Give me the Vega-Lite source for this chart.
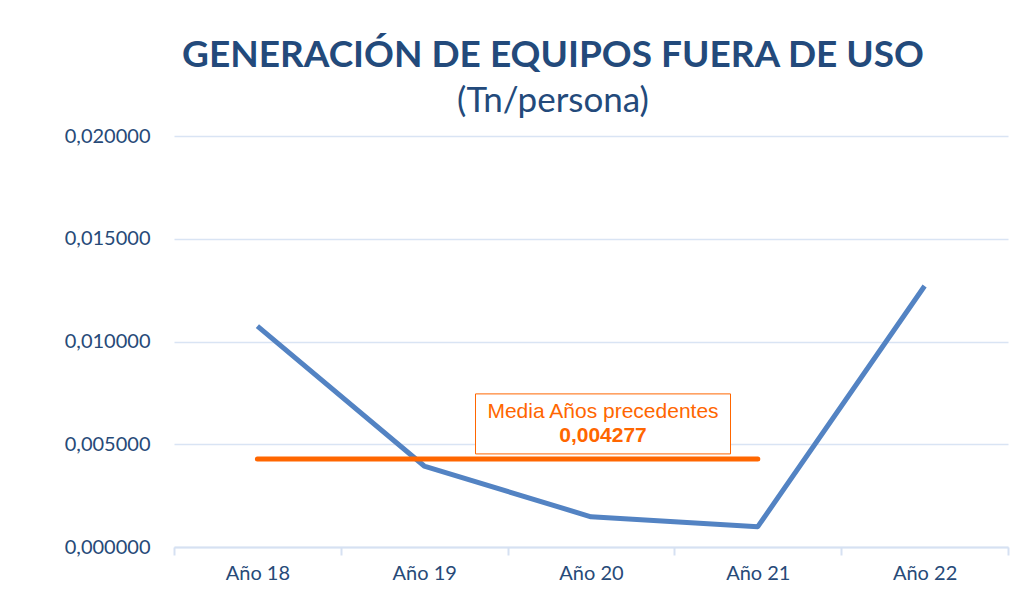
{
  "$schema": "https://vega.github.io/schema/vega-lite/v6.json",
  "autosize": {"type": "none"},
  "padding": {"left": 174, "top": 136, "right": 14, "bottom": 62},
  "width": 834,
  "height": 411,
  "background": "white",
  "config": {
    "locale": {"number": {"decimal": ",", "thousands": ".", "grouping": [3], "currency": ["", " €"]}},
    "view": {"stroke": null}
  },
  "title": {
    "text": "GENERACIÓN DE EQUIPOS FUERA DE USO",
    "subtitle": "(Tn/persona)",
    "anchor": "middle",
    "dx": -38,
    "offset": 6,
    "font": "Lato",
    "fontSize": 37,
    "fontWeight": "bold",
    "color": "#234A7B",
    "subtitleFont": "Lato",
    "subtitleFontSize": 35,
    "subtitleColor": "#234A7B",
    "subtitlePadding": 9
  },
  "datasets": {
    "serie": [
      {"anio": "Año 18", "valor": 0.01075},
      {"anio": "Año 19", "valor": 0.00394},
      {"anio": "Año 20", "valor": 0.00147},
      {"anio": "Año 21", "valor": 0.00099},
      {"anio": "Año 22", "valor": 0.0127}
    ],
    "media": [
      {"anio": "Año 18", "valor": 0.004277},
      {"anio": "Año 21", "valor": 0.004277}
    ],
    "caja": [
      {"anio": "Año 20", "top": 0.00745, "bottom": 0.00453}
    ],
    "texto1": [
      {"anio": "Año 20", "valor": 0.00657, "texto": "Media Años precedentes"}
    ],
    "texto2": [
      {"anio": "Año 20", "valor": 0.00538, "texto": "0,004277"}
    ]
  },
  "layer": [
    {
      "data": {"name": "serie"},
      "mark": {"type": "line", "color": "#5383C3", "strokeWidth": 5, "strokeJoin": "round"},
      "encoding": {
        "x": {
          "field": "anio", "type": "nominal", "sort": null,
          "scale": {"paddingInner": 0, "paddingOuter": 0},
          "axis": {
            "title": null, "labelAngle": 0, "tickBand": "extent",
            "labelFont": "Lato", "labelFontSize": 20, "labelColor": "#274A78",
            "labelPadding": 8,
            "domainColor": "#D6E1F2", "domainWidth": 2,
            "tickColor": "#D6E1F2", "tickWidth": 2, "tickSize": 8,
            "grid": false
          }
        },
        "y": {
          "field": "valor", "type": "quantitative",
          "scale": {"domain": [0, 0.02], "nice": false},
          "axis": {
            "title": null, "values": [0, 0.005, 0.01, 0.015, 0.02], "format": ".6f",
            "labelFont": "Lato", "labelFontSize": 20, "labelColor": "#274A78",
            "labelPadding": 24, "domain": false, "ticks": false,
            "grid": true, "gridColor": "#D9E4F4", "gridWidth": 1.5
          }
        }
      }
    },
    {
      "data": {"name": "media"},
      "mark": {"type": "line", "color": "#FF6600", "strokeWidth": 5, "strokeCap": "round"},
      "encoding": {
        "x": {"field": "anio", "type": "nominal", "sort": null},
        "y": {"field": "valor", "type": "quantitative"}
      }
    },
    {
      "data": {"name": "caja"},
      "mark": {"type": "bar", "width": 255, "xOffset": 12, "fill": "white", "stroke": "#FF6600", "strokeWidth": 1},
      "encoding": {
        "x": {"field": "anio", "type": "nominal", "sort": null},
        "y": {"field": "top", "type": "quantitative"},
        "y2": {"field": "bottom"}
      }
    },
    {
      "data": {"name": "texto1"},
      "mark": {"type": "text", "font": "Liberation Sans", "fontSize": 21, "color": "#FF6600", "xOffset": 12, "baseline": "middle", "align": "center"},
      "encoding": {
        "x": {"field": "anio", "type": "nominal", "sort": null},
        "y": {"field": "valor", "type": "quantitative"},
        "text": {"field": "texto"}
      }
    },
    {
      "data": {"name": "texto2"},
      "mark": {"type": "text", "font": "Liberation Sans", "fontSize": 21, "fontWeight": "bold", "color": "#FF6600", "xOffset": 12, "baseline": "middle", "align": "center"},
      "encoding": {
        "x": {"field": "anio", "type": "nominal", "sort": null},
        "y": {"field": "valor", "type": "quantitative"},
        "text": {"field": "texto"}
      }
    }
  ]
}
